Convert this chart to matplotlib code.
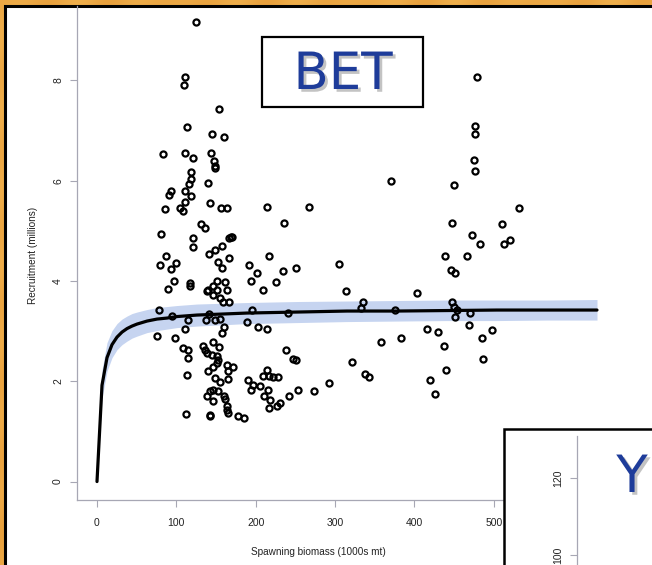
import numpy as np
import matplotlib
matplotlib.use("Agg")
import matplotlib.pyplot as plt
import matplotlib.patheffects as pe
from matplotlib.patches import Rectangle

plt.rcParams['font.family'] = ['Liberation Sans', 'DejaVu Sans']

# Observed spawning biomass (1000s mt) and recruitment (millions)
spawning_biomass = [
    124.7, 110.4, 109.6, 153.2, 113.7, 145.2, 160.0, 83.5, 110.4, 120.5,
    144.0, 147.7, 148.4, 149.0, 118.0, 118.0, 115.5, 139.8, 93.6, 90.3,
    111.2, 118.0, 111.2, 85.2, 104.5, 108.7, 142.3, 155.8, 163.3, 130.6,
    136.4, 80.2, 120.5, 168.4, 166.0, 170.0, 121.3, 140.6, 148.2, 157.0,
    165.9, 152.8, 157.8, 191.0, 216.2, 201.0, 233.9, 250.3, 304.8, 214.1,
    267.0, 235.9, 86.9, 79.3, 99.1, 93.2, 97.4, 89.8, 117.1, 117.1,
    150.7, 161.2, 146.5, 138.0, 140.0, 150.7, 163.2, 154.9, 146.5, 159.1,
    166.2, 194.0, 209.4, 225.4, 77.6, 94.0, 115.0, 141.4, 137.3, 148.6,
    154.9, 194.8, 188.5, 203.2, 214.5, 111.2, 160.3, 157.4, 75.9, 98.2,
    108.7, 115.0, 133.9, 138.2, 136.0, 146.5, 154.0, 144.5, 150.7, 152.8,
    150.7, 115.0, 113.0, 163.3, 171.7, 164.6, 140.2, 146.5, 148.6, 154.9,
    164.6, 142.3, 146.5, 152.8, 138.0, 146.5, 160.0, 161.2, 190.6, 197.0,
    194.0, 208.7, 213.7, 216.6, 222.0, 227.6, 205.3, 216.0, 210.3, 217.9,
    217.0, 226.3, 230.5, 237.7, 247.2, 250.6, 253.5, 242.2, 240.9, 163.3,
    165.4, 163.3, 142.3, 142.3, 178.0, 185.1, 112.1,
    474.8, 476.4, 369.9, 449.6, 531.9, 447.1, 509.7, 472.3, 483.1, 520.9,
    512.6, 438.3, 466.0, 446.2, 450.9, 313.6, 402.6, 335.4, 332.1, 375.7,
    447.9, 450.0, 453.8, 450.9, 469.8, 415.6, 429.1, 468.9, 497.9, 484.9,
    358.1, 383.2, 437.0, 321.9, 486.5, 439.5, 337.2, 343.0, 419.4, 425.3,
    478.6, 476.0, 476.0, 273.0, 292.0,
]
recruitment = [
    9.16, 8.07, 7.91, 7.42, 7.08, 6.93, 6.88, 6.53, 6.55, 6.45,
    6.55, 6.39, 6.30, 6.25, 6.18, 6.03, 5.94, 5.96, 5.79, 5.72,
    5.80, 5.70, 5.58, 5.44, 5.45, 5.40, 5.56, 5.46, 5.46, 5.13,
    5.05, 4.93, 4.85, 4.87, 4.85, 4.88, 4.68, 4.54, 4.61, 4.69,
    4.45, 4.38, 4.26, 4.31, 4.49, 4.16, 4.20, 4.26, 4.34, 5.47,
    5.47, 5.16, 4.50, 4.31, 4.36, 4.24, 4.00, 3.84, 3.96, 3.89,
    3.99, 3.97, 3.89, 3.79, 3.82, 3.81, 3.82, 3.66, 3.71, 3.58,
    3.59, 4.00, 3.82, 3.97, 3.43, 3.31, 3.23, 3.35, 3.23, 3.23,
    3.24, 3.43, 3.19, 3.08, 3.04, 3.04, 3.09, 2.96, 2.91, 2.87,
    2.66, 2.63, 2.70, 2.56, 2.63, 2.79, 2.68, 2.53, 2.50, 2.42,
    2.36, 2.46, 2.13, 2.33, 2.28, 2.20, 2.20, 2.28, 2.07, 1.98,
    2.05, 1.80, 1.82, 1.80, 1.70, 1.61, 1.70, 1.65, 2.03, 1.93,
    1.83, 2.10, 2.23, 2.10, 2.08, 2.08, 1.91, 1.82, 1.71, 1.63,
    1.47, 1.51, 1.57, 2.63, 2.44, 2.43, 1.83, 1.70, 3.36, 1.50,
    1.37, 1.43, 1.33, 1.30, 1.31, 1.27, 1.35,
    6.41, 6.20, 6.00, 5.91, 5.46, 5.15, 5.13, 4.91, 4.74, 4.81,
    4.73, 4.50, 4.50, 4.21, 4.15, 3.80, 3.76, 3.59, 3.47, 3.43,
    3.59, 3.49, 3.43, 3.29, 3.37, 3.05, 2.99, 3.12, 3.03, 2.87,
    2.79, 2.86, 2.70, 2.39, 2.44, 2.22, 2.14, 2.08, 2.03, 1.75,
    8.07, 7.09, 6.93, 1.81, 1.97,
]

# Fitted stock-recruitment curve with its uncertainty band
fit_biomass = [0, 6.3, 12.6, 18.9, 25.2, 31.5, 37.8, 44.1, 50.4, 63, 75.6,
               88.2, 100.8, 126, 189, 252, 315, 378, 441, 504, 567, 630]
fit_recruitment = [0, 1.92, 2.47, 2.73, 2.88, 2.98, 3.05, 3.10, 3.14, 3.20,
                   3.24, 3.26, 3.29, 3.32, 3.36, 3.38, 3.40, 3.40, 3.41,
                   3.42, 3.42, 3.42]
fit_upper = [0, 2.23, 2.77, 3.01, 3.15, 3.24, 3.30, 3.35, 3.38, 3.43, 3.47,
             3.49, 3.51, 3.54, 3.57, 3.59, 3.60, 3.61, 3.62, 3.62, 3.62, 3.63]
fit_lower = [0, 1.66, 2.20, 2.47, 2.63, 2.73, 2.80, 2.86, 2.90, 2.97, 3.01,
             3.04, 3.07, 3.10, 3.15, 3.17, 3.19, 3.20, 3.21, 3.21, 3.22, 3.22]

x_ticks = [0, 100, 200, 300, 400, 500]
y_ticks = [0, 2, 4, 6, 8]
inset_ticks = [100, 120]

W, H = 652, 565
fig = plt.figure(figsize=(W / 100, H / 100), dpi=100)


def px_box(left, top, right, bottom):
    """Figure-fraction rectangle from pixel edges (origin top-left)."""
    return [left / W, 1 - bottom / H, (right - left) / W, (bottom - top) / H]


# Golden slide backdrop
bg = fig.add_axes([0, 0, 1, 1], zorder=-10)
yy, xx = np.mgrid[0:H, 0:W]
streak = 0.5 + 0.5 * np.sin((xx * 0.9 + yy * 0.35) / 9.0) * np.sin(yy / 23.0 + xx / 57.0)
base = np.array([0.91, 0.63, 0.24])
light = np.array([0.97, 0.75, 0.36])
img = base[None, None, :] * (1 - 0.45 * streak[..., None]) + light[None, None, :] * (0.45 * streak[..., None])
bg.imshow(np.clip(img, 0, 1), aspect='auto', extent=[0, W, H, 0])
bg.set_axis_off()

# White slide panel with black frame
fig.patches.append(Rectangle((5 / W, -0.05), 1.05, 1 - 6 / H + 0.05,
                             transform=fig.transFigure, facecolor='white',
                             edgecolor='black', linewidth=2.2, zorder=-5))

# Main stock-recruitment axes
ax = fig.add_axes(px_box(77, 6, 617, 500), zorder=1)
ax.set_facecolor('none')
ax.set_xlim(-25.2, 655.2)
ax.set_ylim(-0.368, 9.483)

ax.fill_between(fit_biomass, fit_lower, fit_upper, color='#bccdee',
                alpha=0.85, linewidth=0, zorder=1)
ax.plot(fit_biomass, fit_recruitment, color='black', linewidth=2.3,
        solid_capstyle='round', zorder=3)
ax.plot(spawning_biomass, recruitment, linestyle='none', marker='o',
        markersize=4.4, markerfacecolor='none', markeredgecolor='black',
        markeredgewidth=1.6, zorder=4)

for side in ('top', 'right'):
    ax.spines[side].set_visible(False)
for side in ('left', 'bottom'):
    ax.spines[side].set_color('#a7a7b4')
    ax.spines[side].set_linewidth(0.9)

ax.set_xticks(x_ticks)
ax.set_yticks(y_ticks)
ax.set_xticklabels([str(t) for t in x_ticks])
ax.set_yticklabels([str(t) for t in y_ticks], rotation=90, va='center')
ax.tick_params(axis='both', direction='out', length=5, width=0.8,
               color='#a7a7b4', labelsize=7.5, labelcolor='#222222')
ax.tick_params(axis='x', pad=8)
ax.tick_params(axis='y', pad=5)
ax.set_xlabel('Spawning biomass (1000s mt)', fontsize=7.2, color='#222222')
ax.set_ylabel('Recruitment (millions)', fontsize=7.2, color='#222222')
ax.xaxis.set_label_coords((318 - 77) / 540, -(547 - 500) / 494)
ax.yaxis.set_label_coords((38 - 77) / 540, (500 - 255) / 494)

# Species title box
fig.patches.append(Rectangle((262 / W, 1 - 107 / H), (423 - 262) / W, (107 - 37) / H,
                             transform=fig.transFigure, facecolor='white',
                             edgecolor='black', linewidth=1.6, zorder=2))
fig.text(343 / W, 1 - 75 / H, 'BET', fontsize=37, color='#1e3c9a',
         family='DejaVu Sans', ha='center', va='center', zorder=3,
         path_effects=[pe.SimplePatchShadow(offset=(2, -2), shadow_rgbFace='#888888', alpha=0.5),
                       pe.Normal()])

# Neighbouring panel peeking in from the lower right
fig.patches.append(Rectangle((504 / W, -0.05), 0.3, (565 - 429) / H + 0.05,
                             transform=fig.transFigure, facecolor='white',
                             edgecolor='black', linewidth=1.8, zorder=5))
ax2 = fig.add_axes(px_box(577, 436, 652, 565), zorder=6)
ax2.set_facecolor('none')
ax2.set_ylim(100 - 10 / 3.85, 120 + 42 / 3.85)
ax2.set_xlim(0, 1)
for side in ('top', 'right', 'bottom'):
    ax2.spines[side].set_visible(False)
ax2.spines['left'].set_color('#a7a7b4')
ax2.spines['left'].set_linewidth(0.9)
ax2.set_xticks([])
ax2.set_yticks(inset_ticks)
ax2.set_yticklabels([str(t) for t in inset_ticks], rotation=90, va='center')
ax2.tick_params(axis='y', direction='out', length=5, width=0.8,
                color='#a7a7b4', labelsize=7.5, labelcolor='#222222', pad=5)
fig.text(632 / W, 1 - 478 / H, 'Y', fontsize=37, color='#1e3c9a',
         family='DejaVu Sans', ha='center', va='center', zorder=7,
         path_effects=[pe.SimplePatchShadow(offset=(2, -2), shadow_rgbFace='#888888', alpha=0.5),
                       pe.Normal()])

fig.savefig('out.png', dpi=100)
